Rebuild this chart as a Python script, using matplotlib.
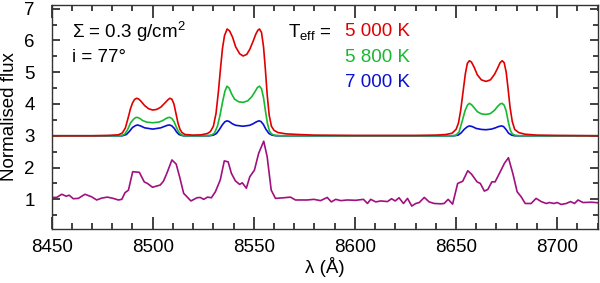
import matplotlib
matplotlib.use("Agg")
import numpy as np
import matplotlib.pyplot as plt
from matplotlib.ticker import MultipleLocator

matplotlib.rcdefaults()
plt.rcParams['font.family'] = ['Liberation Sans', 'DejaVu Sans']
plt.rcParams['mathtext.fontset'] = 'custom'
plt.rcParams['mathtext.rm'] = 'Liberation Sans'
plt.rcParams['mathtext.it'] = 'Liberation Sans:italic'

# ---- model spectra (offset by +2) ----
red_wl = [8450, 8470, 8478, 8483, 8485, 8486.5, 8488, 8489, 8490, 8491, 8492, 8493, 8494, 8496, 8498, 8500,
          8502, 8504, 8506, 8507.5, 8508.5, 8509.5, 8510.5, 8511.5, 8512.5, 8513.5, 8514.5, 8516, 8520, 8524,
          8527, 8528.5, 8530, 8531.3, 8532.5, 8533.5, 8534.5, 8535.5, 8536.8, 8538, 8539.5, 8541, 8543, 8544.7,
          8546.5, 8548, 8549.5, 8551, 8552, 8552.8, 8553.8, 8554.8, 8555.7, 8556.6, 8557.6, 8558.7, 8560, 8562,
          8566, 8572, 8580, 8600, 8630, 8640, 8645, 8648, 8650, 8651.2, 8652.3, 8653.5, 8654.6, 8655.6, 8656.6,
          8657.6, 8659, 8660.5, 8662.5, 8664.8, 8667, 8669, 8670.5, 8671.8, 8672.8, 8673.8, 8674.8, 8675.7,
          8676.7, 8677.8, 8679, 8681, 8684, 8690, 8700, 8720]
red_fl = [3.0, 3.0, 3.01, 3.03, 3.09, 3.25, 3.6, 3.85, 4.03, 4.14, 4.18, 4.16, 4.1, 3.95, 3.85, 3.81,
          3.83, 3.9, 4.03, 4.13, 4.18, 4.15, 4.0, 3.7, 3.4, 3.2, 3.1, 3.04, 3.02, 3.03,
          3.07, 3.13, 3.3, 3.7, 4.4, 5.1, 5.75, 6.15, 6.36, 6.3, 6.1, 5.8, 5.58, 5.51,
          5.56, 5.72, 5.95, 6.2, 6.32, 6.36, 6.25, 5.8, 5.1, 4.3, 3.65, 3.3, 3.17, 3.1,
          3.06, 3.04, 3.02, 3.01, 3.01, 3.02, 3.04, 3.08, 3.2, 3.4, 3.8, 4.4, 4.95, 5.28, 5.36,
          5.32, 5.15, 4.92, 4.76, 4.71, 4.76, 4.93, 5.12, 5.3, 5.36, 5.3, 5.0, 4.5,
          3.9, 3.45, 3.2, 3.1, 3.05, 3.02, 3.01, 3.0]

green_wl = [8450, 8484, 8486, 8487.5, 8489, 8490.5, 8491.5, 8492.3, 8493.5, 8495, 8497, 8500, 8503, 8505,
            8506.5, 8507.5, 8508.4, 8509.5, 8510.5, 8511.5, 8512.5, 8513.5, 8514.5, 8516, 8526, 8529,
            8530.5, 8532, 8533.3, 8534.5, 8535.7, 8536.7, 8537.8, 8539, 8540.5, 8542.5, 8544.7, 8547, 8549,
            8550.5, 8551.8, 8552.8, 8553.8, 8554.8, 8555.7, 8556.7, 8557.7, 8558.7, 8560, 8563, 8648, 8650,
            8651.5, 8653, 8654.5, 8655.7, 8656.6, 8657.6, 8659, 8660.5, 8662.5, 8664.8, 8667, 8669, 8670.5,
            8671.8, 8672.8, 8673.8, 8674.8, 8675.8, 8676.8, 8677.8, 8679, 8681, 8720]
green_fl = [3.0, 3.0, 3.04, 3.18, 3.4, 3.52, 3.57, 3.58, 3.55, 3.48, 3.43, 3.41, 3.43, 3.48,
            3.54, 3.57, 3.58, 3.54, 3.45, 3.3, 3.16, 3.07, 3.02, 3.0, 3.0, 3.02,
            3.08, 3.3, 3.65, 4.05, 4.4, 4.56, 4.5, 4.32, 4.15, 4.07, 4.05, 4.1, 4.23,
            4.38, 4.52, 4.56, 4.48, 4.2, 3.8, 3.4, 3.15, 3.06, 3.02, 3.0, 3.0, 3.02,
            3.12, 3.45, 3.8, 3.97, 4.02, 3.98, 3.88, 3.76, 3.69, 3.67, 3.7, 3.8, 3.92,
            4.0, 4.02, 3.96, 3.78, 3.45, 3.18, 3.06, 3.02, 3.0, 3.0]

blue_wl = [8450, 8485, 8487, 8488.5, 8490, 8491.5, 8492.5, 8494, 8496, 8500, 8504, 8506, 8507.3, 8508.3,
           8509.5, 8510.7, 8511.8, 8513, 8515, 8528, 8530, 8531.5, 8533, 8534.5, 8535.7, 8536.7, 8537.8,
           8539.3, 8541, 8544.7, 8548, 8549.7, 8551.3, 8552.5, 8553.5, 8554.7, 8556, 8557.5, 8559, 8561,
           8649, 8651, 8652.5, 8654, 8655.5, 8656.6, 8658, 8660, 8662.5, 8664.8, 8667.5, 8669.5, 8671,
           8672.5, 8673.5, 8674.7, 8676, 8677.5, 8679, 8720]
blue_fl = [3.0, 3.0, 3.04, 3.14, 3.26, 3.32, 3.34, 3.31, 3.25, 3.21, 3.25, 3.3, 3.33, 3.34,
           3.31, 3.23, 3.12, 3.04, 3.0, 3.0, 3.02, 3.07, 3.2, 3.35, 3.44, 3.47, 3.45,
           3.38, 3.33, 3.3, 3.33, 3.38, 3.44, 3.47, 3.45, 3.36, 3.2, 3.07, 3.02, 3.0,
           3.0, 3.02, 3.09, 3.2, 3.28, 3.31, 3.29, 3.23, 3.2, 3.19, 3.21, 3.25, 3.29,
           3.31, 3.29, 3.2, 3.08, 3.02, 3.0, 3.0]

# ---- observed spectrum ----
obs_wl = [8450, 8452.5, 8455, 8457.2, 8458.7, 8460.7, 8463.2, 8466.5, 8469.8, 8472.3, 8474.8, 8477.6,
          8480.5, 8483, 8484.7, 8486.3, 8488, 8490.1, 8493.4, 8495.8, 8497.4, 8499.9, 8502, 8503.7,
          8505.3, 8507, 8509.5, 8511.6, 8513.3, 8515.3, 8518.9, 8521.9, 8523.5, 8525.2, 8527.1, 8529,
          8531, 8533.4, 8535.4, 8537.3, 8538.9, 8540.9, 8543, 8544.3, 8546.3, 8548, 8550.3, 8552.4,
          8554.9, 8556.6, 8558.6, 8560.7, 8564.8, 8568.1, 8570.6, 8573.1, 8576.4, 8579.7, 8583, 8586.3,
          8588.3, 8590.5, 8593, 8596.3, 8600.4, 8604.2, 8606.2, 8607.8, 8610.3, 8612.8, 8616.1, 8618.1,
          8619.9, 8621.8, 8624, 8626, 8628.1, 8630.1, 8631.8, 8634.3, 8636.7, 8639.2, 8642.5, 8644.1,
          8646.1, 8648.3, 8650.8, 8653.3, 8655.8, 8657.7, 8660.4, 8662, 8664, 8665.7, 8667.7, 8669.3,
          8671.4, 8673.9, 8675.9, 8678.1, 8680.2, 8682.2, 8684.2, 8687.1, 8689.6, 8692.1, 8694.6, 8696.2,
          8698.4, 8700, 8702, 8704.5, 8706.6, 8708.6, 8710.3, 8712.8, 8716.9, 8720.7]
obs_fl = [1.06, 1.06, 1.16, 1.1, 1.13, 1.02, 1.03, 1.16, 1.08, 0.98, 1.04, 1.07,
          1.03, 0.98, 1.0, 1.21, 1.29, 1.87, 1.85, 1.55, 1.5, 1.38, 1.42, 1.45,
          1.57, 1.82, 2.24, 2.11, 1.71, 1.19, 0.95, 1.05, 1.06, 1.0, 1.07, 1.05,
          1.24, 1.61, 2.21, 2.18, 1.82, 1.58, 1.47, 1.52, 1.35, 1.71, 1.92, 2.45,
          2.83, 2.34, 1.29, 1.03, 1.05, 1.07, 0.98, 0.98, 0.98, 1.0, 0.96, 1.06,
          0.92, 1.0, 0.96, 0.98, 0.97, 1.0, 0.87, 1.0, 0.92, 0.95, 0.93, 1.02,
          0.95, 1.05, 0.87, 1.03, 0.79, 0.87, 0.9, 1.06, 0.92, 0.87, 0.86, 0.87,
          1.0, 0.85, 1.5, 1.57, 1.9, 1.79, 1.55, 1.5, 1.26, 1.31, 1.55, 1.55,
          1.81, 2.13, 2.31, 1.81, 1.24, 1.08, 0.87, 0.87, 1.03, 0.93, 0.87, 0.9,
          0.87, 0.9, 0.84, 0.87, 0.93, 0.87, 0.98, 0.9, 0.91, 0.89]

x_ticks = [8450, 8500, 8550, 8600, 8650, 8700]
y_ticks = [1, 2, 3, 4, 5, 6, 7]

W, H = 600, 283
fig = plt.figure(figsize=(6.0, 2.83), dpi=100)
ax = fig.add_axes([0.086, 0.19, 0.910, 0.793])

lw = 1.2
ax.plot(obs_wl, obs_fl, color='#a0107f', lw=lw)
ax.plot(blue_wl, blue_fl, color='#0a10d0', lw=lw)
ax.plot(green_wl, green_fl, color='#18b830', lw=lw)
ax.plot(red_wl, red_fl, color='#e00000', lw=lw)

ax.set_xlim(8450, 8720)
ax.set_ylim(0.06, 7.12)
ax.set_xticks(x_ticks)
ax.set_yticks(y_ticks)
ax.xaxis.set_minor_locator(MultipleLocator(10))
ax.yaxis.set_minor_locator(MultipleLocator(0.5))

for s in ax.spines.values():
    s.set_color('#333333')
    s.set_linewidth(1.0)
ax.tick_params(axis='both', which='both', direction='in', top=True, right=True,
               color='#333333', width=1.3, labelsize=13.5)
ax.tick_params(axis='x', which='major', length=9, pad=7)
ax.tick_params(axis='x', which='minor', length=4.5)
ax.tick_params(axis='y', which='major', length=6, pad=12)
ax.tick_params(axis='y', which='minor', length=3.5)

ax.set_xlabel('λ (Å)', fontsize=13.5)
ax.set_ylabel('Normalised flux', fontsize=13.5)
ax.yaxis.set_label_coords(-0.062, 0.5)
ax.xaxis.set_label_coords(0.5, -0.125)

fs = 13.5
def ftext(px, py, s, **kw):
    fig.text(px / W, 1 - py / H, s, fontsize=fs, va='center', ha='left', **kw)

ftext(72, 32, r'$\Sigma$ = 0.3 g/cm$^2$')
ftext(72, 57, 'i = 77°')
ftext(288, 32, r'T$_{\rm eff}$ =')
ftext(345, 32, '5 000 K', color='#e00000')
ftext(345, 57, '5 800 K', color='#18b830')
ftext(345, 82, '7 000 K', color='#0a10d0')

fig.savefig('out.png', dpi=100)
